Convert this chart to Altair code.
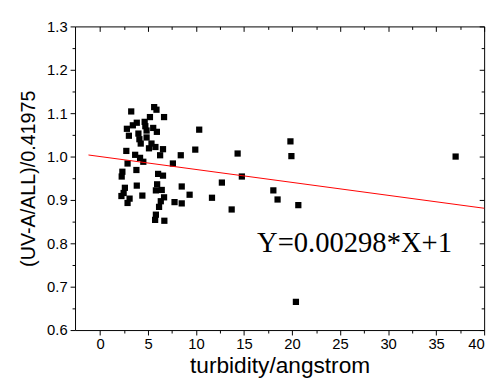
import altair as alt
import pandas as pd

# scatter data
x_vals = [3.25, 5.64, 5.88, 6.67, 5.20, 4.65, 3.83, 3.42, 2.80, 4.72,
          5.54, 4.85, 5.92, 10.33, 3.01, 4.00, 4.85, 4.10, 4.24, 5.36,
          5.10, 5.77, 6.56, 6.26, 2.74, 3.66, 4.17, 4.51, 2.87, 8.41,
          9.92, 7.59, 3.79, 2.33, 2.26, 6.05, 6.56, 3.83, 5.95, 8.51,
          2.59, 5.82, 6.43, 2.46, 2.23, 3.08, 4.41, 6.67, 9.33, 2.87,
          6.33, 7.76, 8.51, 6.15, 5.82, 5.74, 6.70, 14.33, 14.77, 12.69,
          19.83, 19.93, 18.05, 18.49, 20.65, 11.66, 13.71, 37.03, 20.40]
y_vals = [1.104, 1.114, 1.108, 1.091, 1.091, 1.080, 1.078, 1.072, 1.064, 1.070,
          1.066, 1.060, 1.057, 1.062, 1.048, 1.053, 1.044, 1.040, 1.030, 1.030,
          1.019, 1.022, 1.017, 1.003, 1.013, 1.004, 0.997, 0.988, 0.984, 1.003,
          1.016, 0.984, 0.969, 0.965, 0.954, 0.960, 0.956, 0.933, 0.936, 0.931,
          0.928, 0.922, 0.923, 0.916, 0.909, 0.903, 0.910, 0.906, 0.912, 0.893,
          0.897, 0.895, 0.892, 0.884, 0.866, 0.854, 0.852, 1.007, 0.954, 0.940,
          1.035, 1.001, 0.922, 0.901, 0.888, 0.905, 0.878, 1.000, 0.665]

# fitted line end points
line_x = [-1.2, 40.0]
line_y = [1.0036, 0.8808]

# annotation
note_text = ["Y=0.00298*X+1"]
note_x = [26.5]
note_y = [0.80]

# tick values
x_ticks = [0, 2.5, 5, 7.5, 10, 12.5, 15, 17.5, 20, 22.5, 25, 27.5, 30, 32.5, 35, 37.5, 40]
y_ticks = [0.6, 0.65, 0.7, 0.75, 0.8, 0.85, 0.9, 0.95, 1.0, 1.05, 1.1, 1.15, 1.2, 1.25, 1.3]

X_DOMAIN = [-2.6, 40]
Y_DOMAIN = [0.6, 1.3]
W, H = 415, 308

pts = pd.DataFrame({"x": x_vals, "y": y_vals})
ln = pd.DataFrame({"x": line_x, "y": line_y})
note = pd.DataFrame({"x": note_x, "y": note_y, "t": note_text})

SANS = "Liberation Sans"
x_minor = "datum.value % 5 !== 0"
y_minor = "round(datum.value * 100) % 10 !== 0"

common = dict(domainColor="black", tickColor="black", labelColor="black",
              titleColor="black", grid=False, tickWidth=1, domainWidth=1,
              labelFont=SANS, titleFont=SANS, titleFontWeight="normal")

x_axis = alt.Axis(values=x_ticks, orient="bottom",
                  labelExpr="datum.value % 5 === 0 ? datum.label : ''",
                  tickSize={"condition": {"test": x_minor, "value": 3}, "value": 5},
                  labelFontSize=15, labelPadding=2, title="turbidity/angstrom",
                  titleFontSize=23, titlePadding=3, **common)
y_axis = alt.Axis(values=y_ticks, orient="left", format=".1f",
                  labelExpr="round(datum.value * 100) % 10 === 0 ? datum.label : ''",
                  tickSize={"condition": {"test": y_minor, "value": 3}, "value": 5},
                  labelFontSize=15, labelPadding=3, title="(UV-A/ALL)/0.41975",
                  titleFontSize=20, titlePadding=8, **common)

x_top = alt.Axis(values=x_ticks, orient="bottom", offset=-H, labels=False, title=None,
                 tickSize={"condition": {"test": x_minor, "value": 3}, "value": 5},
                 **common)
y_right = alt.Axis(values=y_ticks, orient="left", offset=-W, labels=False, title=None,
                   tickSize={"condition": {"test": y_minor, "value": 3}, "value": 5},
                   **common)

xs = alt.Scale(domain=X_DOMAIN, nice=False, zero=False)
ys = alt.Scale(domain=Y_DOMAIN, nice=False, zero=False)

points = alt.Chart(pts).mark_square(size=40, color="black", opacity=1).encode(
    x=alt.X("x:Q", scale=xs, axis=x_axis),
    y=alt.Y("y:Q", scale=ys, axis=y_axis),
)

line = alt.Chart(ln).mark_line(color="red", strokeWidth=1).encode(
    x=alt.X("x:Q", scale=xs, axis=x_top),
    y=alt.Y("y:Q", scale=ys, axis=y_right),
)

text = alt.Chart(note).mark_text(font="Liberation Serif", fontSize=29, color="black",
                                 align="center", baseline="middle").encode(
    x=alt.X("x:Q", scale=xs, axis=None),
    y=alt.Y("y:Q", scale=ys, axis=None),
    text="t:N",
)

chart = alt.layer(points, line, text).resolve_scale(x="independent", y="independent").properties(
    width=W, height=H,
    autosize=alt.AutoSizeParams(type="none"),
    padding={"left": 68, "top": 16, "right": 10, "bottom": 50},
    background="white",
).configure_view(stroke=None)

chart.save("out.html", embed_options={"renderer": "svg", "actions": False})
